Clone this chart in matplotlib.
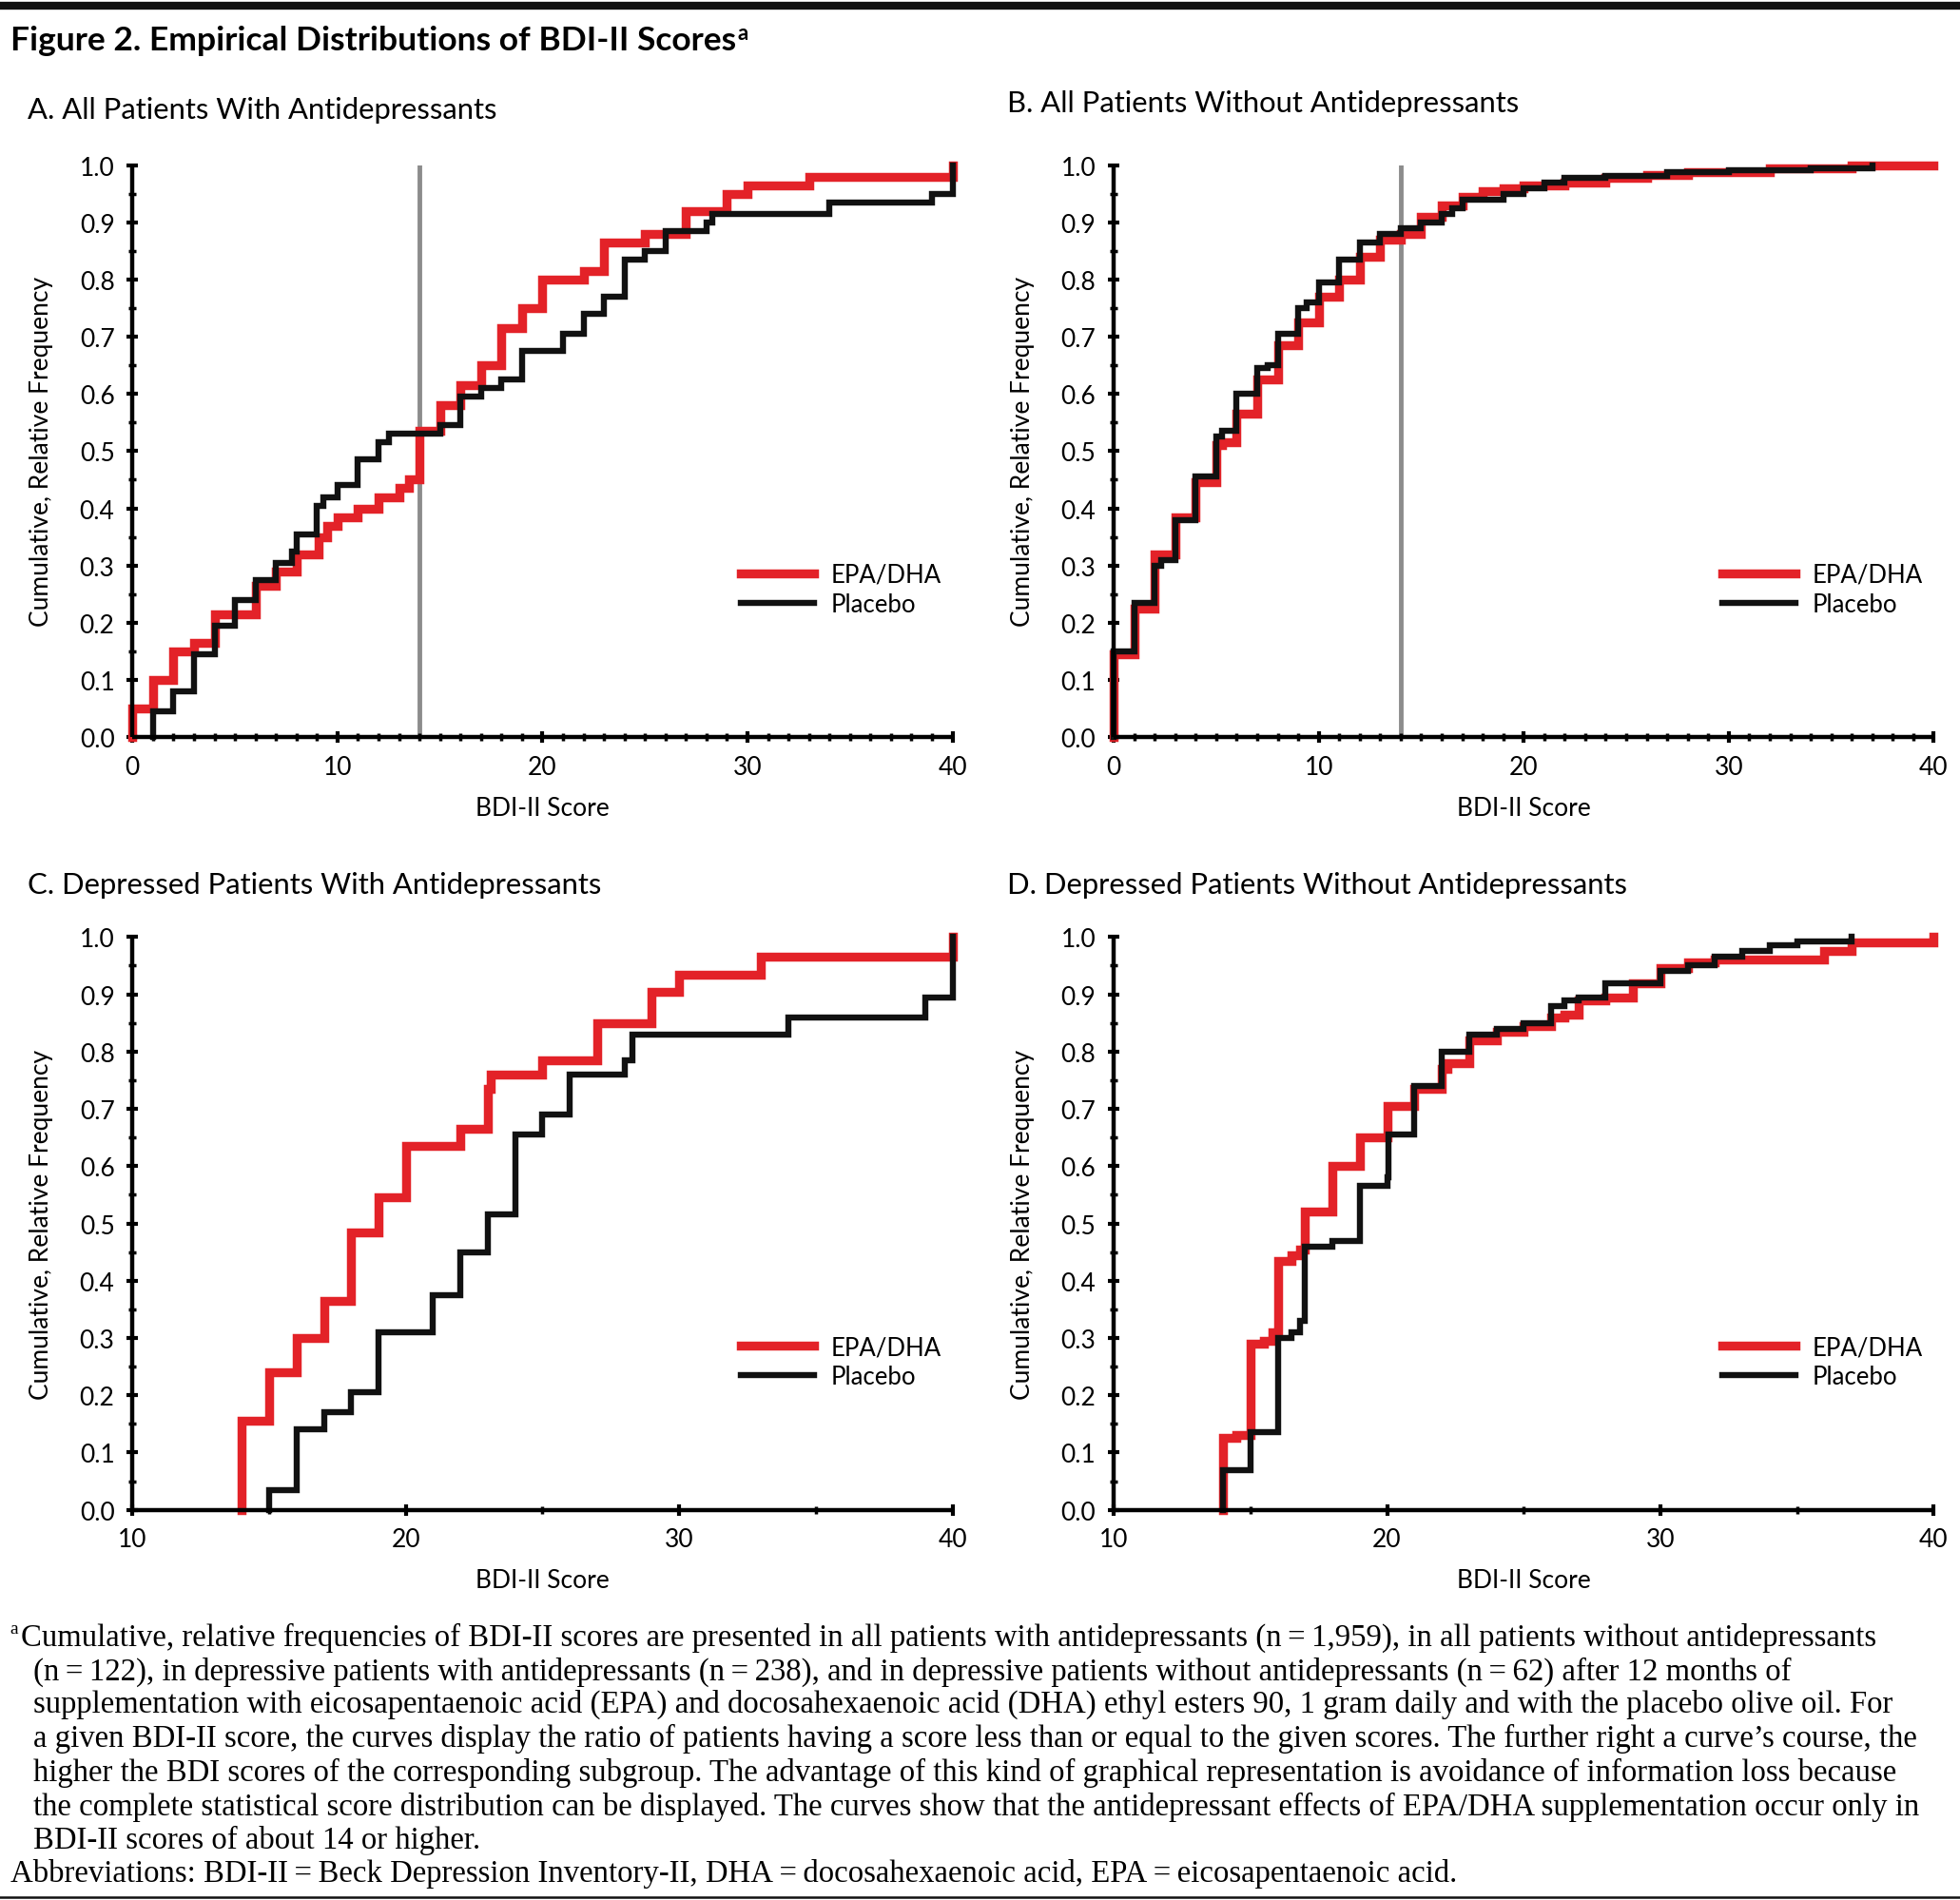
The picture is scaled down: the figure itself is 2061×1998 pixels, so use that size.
import matplotlib
matplotlib.use('Agg')
import matplotlib.pyplot as plt
from matplotlib.lines import Line2D
from matplotlib.ticker import MultipleLocator

plt.rcParams['font.family'] = ['Lato', 'DejaVu Sans']

RED = '#e32228'
BLACK = '#111111'
GREY = '#8c8c8c'

# panel A: all patients with antidepressants
a_epa_x = [0, 1, 2, 3, 4, 6, 7, 8, 9.1, 9.5, 10, 11, 12, 13, 13.5, 14, 15, 16, 17, 18, 19, 20, 22, 23, 25, 27, 29, 30, 33, 40]
a_epa_y = [0.05, 0.10, 0.15, 0.165, 0.215, 0.265, 0.29, 0.32, 0.35, 0.37, 0.385, 0.40, 0.42, 0.435, 0.45, 0.535, 0.58, 0.615, 0.65, 0.715, 0.75, 0.80, 0.815, 0.865, 0.88, 0.92, 0.95, 0.965, 0.98, 1.0]
a_pla_x = [1, 2, 3, 4, 5, 6, 7, 7.8, 8, 9, 9.3, 10, 11, 12, 12.5, 15, 16, 17, 18, 19, 21, 22, 23, 24, 25, 26, 28, 28.3, 34, 39, 40]
a_pla_y = [0.045, 0.08, 0.145, 0.195, 0.24, 0.275, 0.305, 0.325, 0.355, 0.405, 0.42, 0.44, 0.485, 0.515, 0.53, 0.545, 0.595, 0.61, 0.625, 0.675, 0.705, 0.74, 0.77, 0.835, 0.85, 0.885, 0.90, 0.915, 0.935, 0.95, 1.0]

# panel B: all patients without antidepressants
b_epa_x = [0, 1, 2, 3, 4, 5, 5.3, 6, 7, 8, 9, 10, 11, 12, 13, 14, 15, 16, 17, 18, 19, 20, 22, 24, 26, 28, 32, 36, 40]
b_epa_y = [0.145, 0.225, 0.32, 0.385, 0.445, 0.51, 0.515, 0.565, 0.625, 0.685, 0.725, 0.77, 0.80, 0.84, 0.87, 0.88, 0.91, 0.93, 0.945, 0.955, 0.96, 0.965, 0.97, 0.978, 0.983, 0.988, 0.995, 1.0, 1.0]
b_pla_x = [0, 1, 2, 2.3, 3, 4, 5, 5.3, 6, 7, 7.5, 8, 9, 9.4, 10, 11, 12, 13, 14, 15, 16, 16.5, 17, 19, 20, 21, 22, 24, 27, 30, 34, 37]
b_pla_y = [0.15, 0.235, 0.30, 0.31, 0.38, 0.455, 0.525, 0.535, 0.60, 0.645, 0.65, 0.705, 0.75, 0.76, 0.795, 0.835, 0.865, 0.88, 0.89, 0.90, 0.915, 0.925, 0.94, 0.95, 0.96, 0.97, 0.978, 0.982, 0.988, 0.992, 0.995, 1.0]

# panel C: depressed patients with antidepressants
c_epa_x = [14, 15, 16, 17, 18, 19, 20, 22, 23, 23.1, 25, 27, 29, 30, 33, 40]
c_epa_y = [0.155, 0.24, 0.30, 0.365, 0.485, 0.545, 0.635, 0.665, 0.735, 0.76, 0.785, 0.85, 0.905, 0.935, 0.965, 1.0]
c_pla_x = [15, 16, 17, 18, 19, 21, 22, 23, 24, 25, 26, 28, 28.3, 34, 39, 40]
c_pla_y = [0.035, 0.14, 0.17, 0.205, 0.31, 0.375, 0.45, 0.515, 0.655, 0.69, 0.76, 0.785, 0.83, 0.86, 0.895, 1.0]

# panel D: depressed patients without antidepressants
d_epa_x = [14, 14.5, 15, 15.5, 15.8, 16, 16.5, 16.8, 17, 18, 19, 20, 21, 22, 22.2, 23, 24, 25, 26, 26.5, 27, 28, 29, 30, 31, 32, 36, 37, 40]
d_epa_y = [0.125, 0.13, 0.29, 0.295, 0.31, 0.435, 0.445, 0.455, 0.52, 0.60, 0.65, 0.705, 0.735, 0.77, 0.78, 0.82, 0.835, 0.845, 0.86, 0.865, 0.89, 0.895, 0.92, 0.945, 0.955, 0.96, 0.975, 0.99, 1.0]
d_pla_x = [14, 15, 16, 16.5, 16.8, 17, 18, 19, 20, 20.05, 21, 22, 23, 24, 25, 26, 26.5, 27, 28, 30, 31, 32, 33, 34, 35, 37]
d_pla_y = [0.07, 0.135, 0.30, 0.31, 0.33, 0.46, 0.47, 0.565, 0.58, 0.655, 0.74, 0.80, 0.83, 0.84, 0.85, 0.88, 0.89, 0.895, 0.92, 0.94, 0.95, 0.965, 0.975, 0.985, 0.993, 1.0]

panels = [
    ('A. All Patients With Antidepressants', a_epa_x, a_epa_y, a_pla_x, a_pla_y, 0, True),
    ('B. All Patients Without Antidepressants', b_epa_x, b_epa_y, b_pla_x, b_pla_y, 0, True),
    ('C. Depressed Patients With Antidepressants', c_epa_x, c_epa_y, c_pla_x, c_pla_y, 10, False),
    ('D. Depressed Patients Without Antidepressants', d_epa_x, d_epa_y, d_pla_x, d_pla_y, 10, False),
]

W, H = 1568.0, 1520.0  # layout measured on the reference at this size
axes_boxes = [(106, 133, 762, 590), (891, 133, 1547, 590),
              (106, 750, 762, 1208), (891, 750, 1547, 1208)]
title_pos = [(22, 88), (806, 83), (22, 708), (806, 708)]

fig = plt.figure(figsize=(20.61, 19.99), dpi=100)

for (title, ex, ey, px, py, xmin, cutoff), box, tp in zip(panels, axes_boxes, title_pos):
    l, t, r, b = box
    ax = fig.add_axes([l / W, 1 - b / H, (r - l) / W, (b - t) / H])
    # each curve starts with a vertical rise at its first score
    ax.step([px[0]] + px, [0] + py, where='post', color=BLACK, lw=4.6,
            solid_joinstyle='miter', clip_on=False, zorder=3, label='Placebo')
    ax.step([ex[0]] + ex, [0] + ey, where='post', color=RED, lw=6.8,
            solid_joinstyle='miter', clip_on=False, zorder=2, label='EPA/DHA')
    if cutoff:
        ax.axvline(14, color=GREY, lw=3.5, zorder=1)
    ax.set_xlim(xmin, 40)
    ax.set_ylim(0, 1.0)
    for s in ['top', 'right']:
        ax.spines[s].set_visible(False)
    for s in ['left', 'bottom']:
        ax.spines[s].set_linewidth(3.2)
        ax.spines[s].set_capstyle('butt')
        ax.spines[s].set_zorder(4)
    ax.xaxis.set_major_locator(MultipleLocator(10))
    ax.xaxis.set_minor_locator(MultipleLocator(1 if xmin == 0 else 5))
    ax.yaxis.set_major_locator(MultipleLocator(0.1))
    ax.yaxis.set_minor_locator(MultipleLocator(0.05))
    ax.yaxis.set_major_formatter(plt.FormatStrFormatter('%.1f'))
    ax.tick_params(which='major', direction='inout', length=9, width=3, labelsize=19, pad=9)
    ax.tick_params(which='minor', direction='inout', length=6, width=2.5)
    ax.set_xlabel('BDI-II Score', fontsize=19, labelpad=13)
    ax.set_ylabel('Cumulative, Relative Frequency', fontsize=19, labelpad=20)
    h, lab = ax.get_legend_handles_labels()
    ax.legend(h[::-1], lab[::-1], loc='upper left', bbox_to_anchor=(0.73, 0.322),
              frameon=False, fontsize=18.5, handlelength=3.0, handletextpad=0.7,
              labelspacing=0.25, borderaxespad=0)
    fig.text(tp[0] / W, 1 - tp[1] / H, title, fontsize=22.3, va='center', ha='left')

# heading and rules
fig.add_artist(Line2D([0, 1], [1 - 5 / H, 1 - 5 / H], color=BLACK, lw=6))
fig.add_artist(Line2D([0, 1], [1 - 1518 / H, 1 - 1518 / H], color=BLACK, lw=1.8))
head = fig.text(8 / W, 1 - 33 / H, 'Figure 2. Empirical Distributions of BDI-II Scores',
                fontsize=25.5, fontweight='bold', va='center', ha='left')
fig.canvas.draw()
bb = head.get_window_extent().transformed(fig.transFigure.inverted())
fig.text(bb.x1 + 0.0008, bb.y1 + 0.001, 'a', fontsize=16, fontweight='bold', va='top')

serif = ['Liberation Serif', 'DejaVu Serif']
notes = [
    'Cumulative, relative frequencies of BDI-II scores are presented in all patients with antidepressants (n\u2009=\u20091,959), in all patients without antidepressants',
    '(n\u2009=\u2009122), in depressive patients with antidepressants (n\u2009=\u2009238), and in depressive patients without antidepressants (n\u2009=\u200962) after 12 months of',
    'supplementation with eicosapentaenoic acid (EPA) and docosahexaenoic acid (DHA) ethyl esters 90, 1 gram daily and with the placebo olive oil. For',
    'a given BDI-II score, the curves display the ratio of patients having a score less than or equal to the given scores. The further right a curve\u2019s course, the',
    'higher the BDI scores of the corresponding subgroup. The advantage of this kind of graphical representation is avoidance of information loss because',
    'the complete statistical score distribution can be displayed. The curves show that the antidepressant effects of EPA/DHA supplementation occur only in',
    'BDI-II scores of about 14 or higher.',
]
note_y = [1310, 1337, 1363, 1390, 1418, 1445, 1472]
fig.text(8 / W, 1 - 1303 / H, 'a', fontsize=14, family=serif, va='center')
for i, (line, y) in enumerate(zip(notes, note_y)):
    x = 17 if i == 0 else 27
    fig.text(x / W, 1 - y / H, line, fontsize=23.6, family=serif, va='center', ha='left')
fig.text(8 / W, 1 - 1498 / H,
         'Abbreviations: BDI-II\u2009=\u2009Beck Depression Inventory-II, DHA\u2009=\u2009docosahexaenoic acid, EPA\u2009=\u2009eicosapentaenoic acid.',
         fontsize=23.6, family=serif, va='center', ha='left')

fig.savefig('out.png', dpi=100)
